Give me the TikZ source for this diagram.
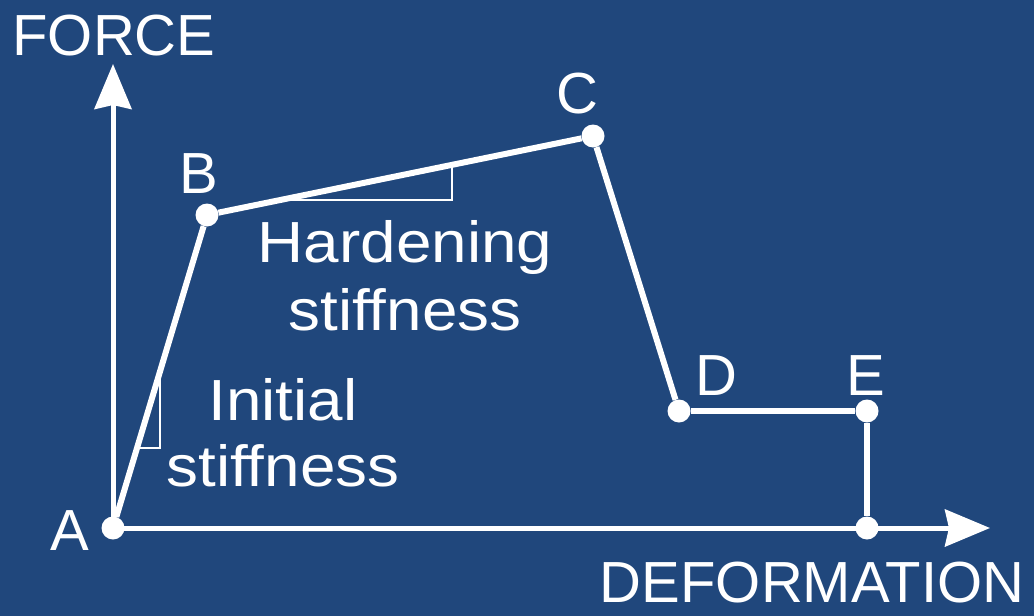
\documentclass[tikz,border=0pt]{standalone}
\usepackage{fontspec}
\setmainfont{Liberation Sans}
\usetikzlibrary{arrows.meta,calc}
\definecolor{bgblue}{RGB}{32,71,124}
\tikzset{
  curve/.style={draw=white, line width=6pt, line join=round},
  axisline/.style={draw=white, line width=5pt, -{Stealth[length=45pt,width=37pt,inset=4pt]}},
  slope/.style={draw=white, line width=2.5pt},
  dot/.style={circle, fill=white, inner sep=0pt, minimum size=23pt},
  lbl/.style={text=white, inner sep=0pt, anchor=base, font=\fontsize{58}{60}\selectfont},
}
\newcommand{\wide}[1]{\scalebox{1.1}[1]{#1}}
\begin{document}
\begin{tikzpicture}[x=1pt,y=-1pt]
\useasboundingbox (0,0) rectangle (1034,616);
\fill[bgblue] (0,0) rectangle (1034,616);
% points
\node[dot] (A) at (113,528) {};
\node[dot] (B) at (207,215) {};
\node[dot] (C) at (593,136) {};
\node[dot] (D) at (679,411) {};
\node[dot] (E) at (867,411) {};
\node[dot] (F) at (867,528) {};
\coordinate (ytip) at (113,64);
\coordinate (xtip) at (990,528);
% axes
\draw[axisline] (A.center) -- (ytip);
\draw[axisline] (A.center) -- (xtip);
% curve
\draw[curve] (A) -- (B);
\draw[curve] (B) -- (C);
\draw[curve] (C) -- (D);
\draw[curve] (D) -- (E);
\draw[curve] (E) -- (F);
% slope triangles
\draw[slope] ($(A)!0.255!(B)$) -| ($(A)!0.50!(B)$);
\draw[slope] ($(B)!0.19!(C)$) -| ($(B)!0.635!(C)$);
% labels
\node[lbl] (lF) at (114,55) {FORCE};
\node[lbl] (lDef) at (812,602) {DEFORMATION};
\node[lbl] (lA) at (70,550) {A};
\node[lbl] (lB) at (199,193) {B};
\node[lbl] (lC) at (577,113) {C};
\node[lbl] (lD) at (716,395) {D};
\node[lbl] (lE) at (866,395) {E};
\node[lbl] (lH1) at (405,262) {\wide{Hardening}};
\node[lbl] (lH2) at (405,330) {\wide{stiffness}};
\node[lbl] (lI1) at (283,420) {\wide{Initial}};
\node[lbl] (lI2) at (283,486) {\wide{stiffness}};
\end{tikzpicture}
\end{document}
